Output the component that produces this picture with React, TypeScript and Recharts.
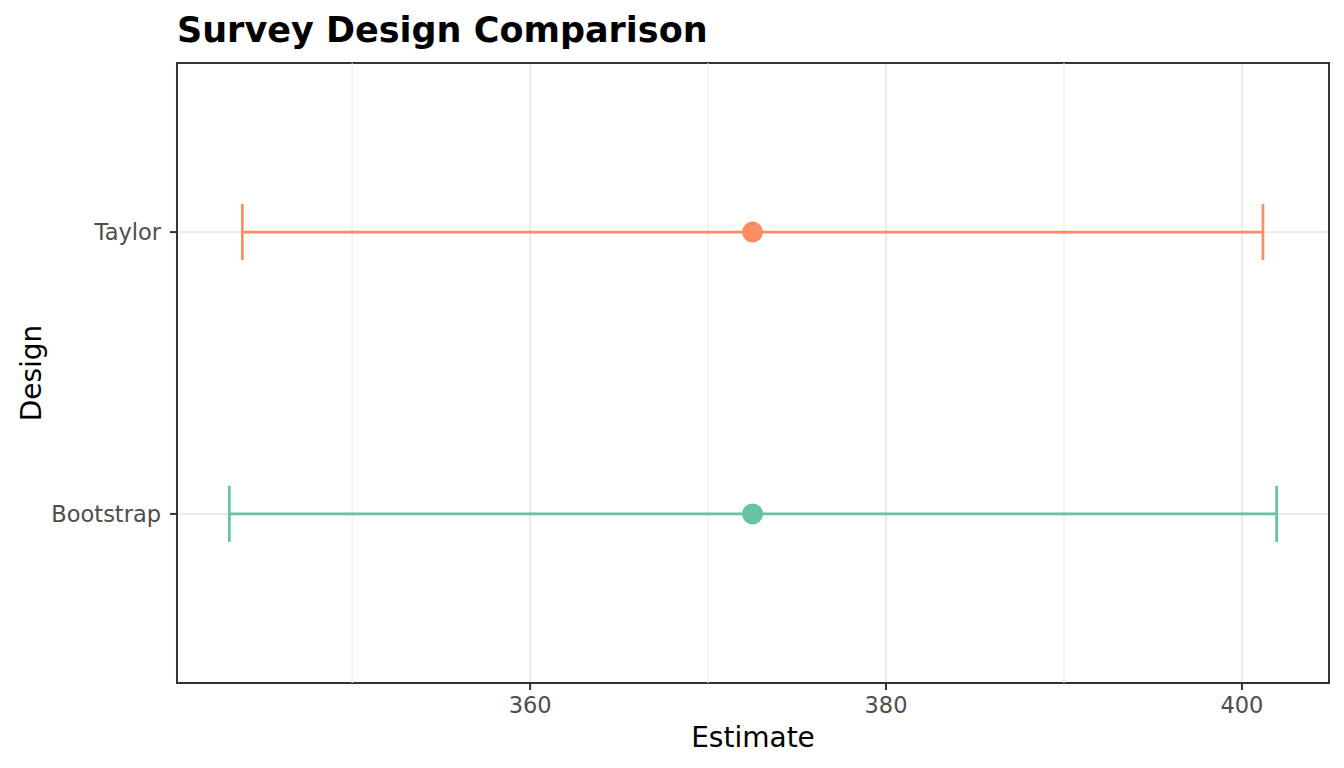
import {
  ScatterChart,
  Scatter,
  XAxis,
  YAxis,
  CartesianGrid,
  ErrorBar,
  ReferenceLine,
  ReferenceArea,
} from "recharts";

const designs = ["Bootstrap", "Taylor"];
const estimates = [372.5, 372.5];
const lowerCI = [343.1, 343.83];
const upperCI = [401.95, 401.18];
const colors = ["#66C2A5", "#FC8D62"];
const xTicks = [360, 380, 400];
const xMinorTicks = [350, 370, 390];
const yTicks = [1, 2];

// ggplot-like 5% expansion on the continuous axis, 0.6 on the discrete one
const lo = Math.min(...lowerCI);
const hi = Math.max(...upperCI);
const pad = (hi - lo) * 0.05;
const xDomain = [lo - pad, hi + pad];
const yDomain = [0.4, designs.length + 0.6];

const series = designs.map((name, i) => ({
  name,
  color: colors[i],
  data: [
    {
      design: name,
      pos: i + 1,
      estimate: estimates[i],
      err: [estimates[i] - lowerCI[i], upperCI[i] - estimates[i]],
    },
  ],
}));

const tickStyle = { fontSize: 22.5, fill: "#4D4D4D" };
const tickLineStyle = { stroke: "#333333", strokeWidth: 2 };

const css = `
body{margin:0}
.recharts-errorBar line{stroke-width:2.7px}
.recharts-cartesian-axis-tick-line{stroke:#333333;stroke-width:2px}
`;

export default function App() {
  return (
    <div
      style={{
        position: "relative",
        width: 1344,
        height: 768,
        background: "#fff",
        fontFamily: "'DejaVu Sans', sans-serif",
      }}
    >
      <style>{css}</style>
      <ScatterChart
        width={1344}
        height={768}
        margin={{ top: 63, right: 15, bottom: 0, left: 0 }}
      >
        <CartesianGrid stroke="#EBEBEB" strokeWidth={2.2} />
        {xMinorTicks.map((v) => (
          <ReferenceLine key={v} x={v} stroke="#EBEBEB" strokeWidth={1.1} />
        ))}
        <XAxis
          type="number"
          dataKey="estimate"
          domain={xDomain}
          ticks={xTicks}
          allowDataOverflow
          height={85}
          axisLine={false}
          stroke="#333333"
          tickSize={7}
          tickMargin={7}
          tickLine={tickLineStyle}
          tick={tickStyle}
        />
        <YAxis
          type="number"
          dataKey="pos"
          domain={yDomain}
          ticks={yTicks}
          allowDataOverflow
          tickFormatter={(v) => designs[Number(v) - 1]}
          width={177}
          axisLine={false}
          stroke="#333333"
          tickSize={7}
          tickMargin={9}
          tickLine={tickLineStyle}
          tick={tickStyle}
        />
        {series.map((s) => (
          <Scatter
            key={s.name}
            name={s.name}
            data={s.data}
            fill={s.color}
            isAnimationActive={false}
            shape={(p: any) => (
              <circle cx={p.cx} cy={p.cy} r={10.5} fill={s.color} />
            )}
          >
            <ErrorBar
              dataKey="err"
              direction="x"
              width={28}
              stroke={s.color}
              strokeWidth={2.7}
              isAnimationActive={false}
            />
          </Scatter>
        ))}
        <ReferenceArea
          x1={xDomain[0]}
          x2={xDomain[1]}
          y1={yDomain[0]}
          y2={yDomain[1]}
          fill="none"
          fillOpacity={0}
          stroke="#333333"
          strokeWidth={2}
          ifOverflow="visible"
        />
      </ScatterChart>
      <svg
        width={1344}
        height={768}
        style={{ position: "absolute", left: 0, top: 0, pointerEvents: "none" }}
      >
        <text x={177} y={42} fontSize={35} fontWeight="bold" fill="#000">
          Survey Design Comparison
        </text>
        <text x={753} y={747} fontSize={28} textAnchor="middle" fill="#000">
          Estimate
        </text>
        <text
          transform="translate(41,373) rotate(-90)"
          fontSize={28}
          textAnchor="middle"
          fill="#000"
        >
          Design
        </text>
      </svg>
    </div>
  );
}
